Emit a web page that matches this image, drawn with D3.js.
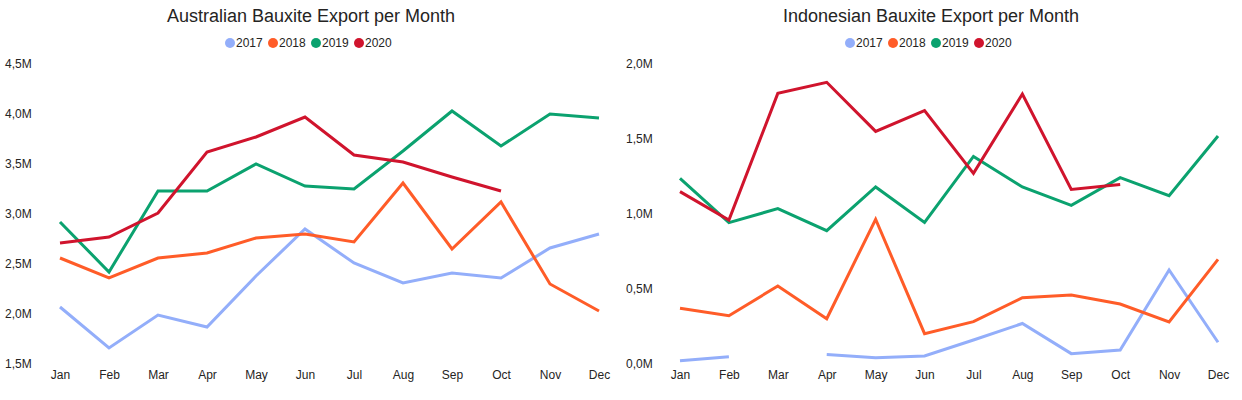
<!DOCTYPE html>
<html lang="en">
<head>
	<meta charset="UTF-8">
	<title>Bauxite Export</title>
	<style>
		body { margin: 0; background: #fff; }
		text { font-family: "Segoe UI", "Liberation Sans", Arial, sans-serif; }
	</style>
</head>
<body>
	<script src="https://cdn.jsdelivr.net/npm/d3@7"></script>
	<script>
		var months = ["Jan","Feb","Mar","Apr","May","Jun","Jul","Aug","Sep","Oct","Nov","Dec"];
		var years = ["2017","2018","2019","2020"];
		var colors = ["#93AEFA","#FF5C28","#0BA26F","#D0142D"];

		// values in millions of tonnes
		var aus2017 = [2.07,1.66,1.99,1.87,2.38,2.85,2.51,2.31,2.41,2.36,2.66,2.80];
		var aus2018 = [2.56,2.36,2.56,2.61,2.76,2.80,2.72,3.31,2.65,3.12,2.30,2.03];
		var aus2019 = [2.92,2.42,3.23,3.23,3.50,3.28,3.25,3.63,4.03,3.68,4.00,3.96];
		var aus2020 = [2.71,2.77,3.01,3.62,3.77,3.97,3.59,3.52,3.37,3.23,null,null];

		var idn2017 = [0.022,0.049,null,0.064,0.042,0.053,0.16,0.27,0.069,0.093,0.627,0.145];
		var idn2018 = [0.371,0.322,0.52,0.302,0.965,0.202,0.282,0.442,0.46,0.40,0.28,0.698];
		var idn2019 = [1.238,0.942,1.036,0.889,1.18,0.944,1.384,1.18,1.058,1.242,1.122,1.52];
		var idn2020 = [1.149,0.96,1.804,1.878,1.551,1.689,1.271,1.80,1.164,1.196,null,null];

		var ausTicks = [1.5,2.0,2.5,3.0,3.5,4.0,4.5];
		var idnTicks = [0.0,0.5,1.0,1.5,2.0];

		var width = 1242, height = 400;

		var svg = d3.select("body").append("svg")
			.attr("width", width)
			.attr("height", height);

		function fmt(v) {
			return d3.format(".1f")(v).replace(".", ",") + "M";
		}

		function drawChart(opts) {
			var g = svg.append("g").attr("transform", "translate(" + opts.left + ",0)");
			var cx = opts.center;

			g.append("text")
				.attr("x", cx)
				.attr("y", 22)
				.attr("text-anchor", "middle")
				.attr("font-size", "18px")
				.attr("fill", "#252423")
				.text(opts.title);

			// legend
			var itemW = 43;
			var legend = g.append("g")
				.attr("transform", "translate(" + (cx - itemW * years.length / 2) + ",43)");
			years.forEach(function(yr, i) {
				var it = legend.append("g").attr("transform", "translate(" + (i * itemW) + ",0)");
				it.append("circle").attr("cx", 5).attr("cy", 0).attr("r", 5).attr("fill", colors[i]);
				it.append("text")
					.attr("x", 11)
					.attr("y", 0)
					.attr("dy", "0.35em")
					.attr("font-size", "12px")
					.attr("fill", "#252423")
					.text(yr);
			});

			var x = d3.scalePoint()
				.domain(months)
				.range([opts.x0, opts.x1]);

			var y = d3.scaleLinear()
				.domain(opts.domain)
				.range([364, 64]);

			// y labels
			g.append("g").selectAll("text")
				.data(opts.ticks)
				.enter()
				.append("text")
				.attr("x", 5)
				.attr("y", function(d){ return y(d); })
				.attr("dy", "0.35em")
				.attr("font-size", "12px")
				.attr("fill", "#252423")
				.text(fmt);

			// x axis
			var xAxis = d3.axisBottom(x).tickSize(0).tickPadding(0);
			var ax = g.append("g")
				.attr("transform", "translate(0,370)")
				.call(xAxis);
			ax.select(".domain").remove();
			ax.selectAll("text")
				.attr("font-size", "12px")
				.attr("fill", "#252423")
				.attr("font-family", null)
				.attr("dy", "0.71em");

			var line = d3.line()
				.defined(function(d){ return d != null; })
				.x(function(d, i){ return x(months[i]); })
				.y(function(d){ return y(d); });

			g.selectAll("path.line")
				.data(opts.series)
				.enter()
				.append("path")
				.attr("class", "line")
				.attr("d", function(d){ return line(d); })
				.attr("stroke", function(d, i){ return colors[i]; })
				.attr("stroke-width", 3)
				.attr("fill", "none");
		}

		drawChart({
			left: 0,
			center: 311,
			title: "Australian Bauxite Export per Month",
			x0: 60, x1: 599,
			domain: [1.5, 4.5],
			ticks: ausTicks,
			series: [aus2017, aus2018, aus2019, aus2020]
		});

		drawChart({
			left: 621,
			center: 310,
			title: "Indonesian Bauxite Export per Month",
			x0: 59, x1: 597,
			domain: [0, 2],
			ticks: idnTicks,
			series: [idn2017, idn2018, idn2019, idn2020]
		});
	</script>
</body>
</html>
